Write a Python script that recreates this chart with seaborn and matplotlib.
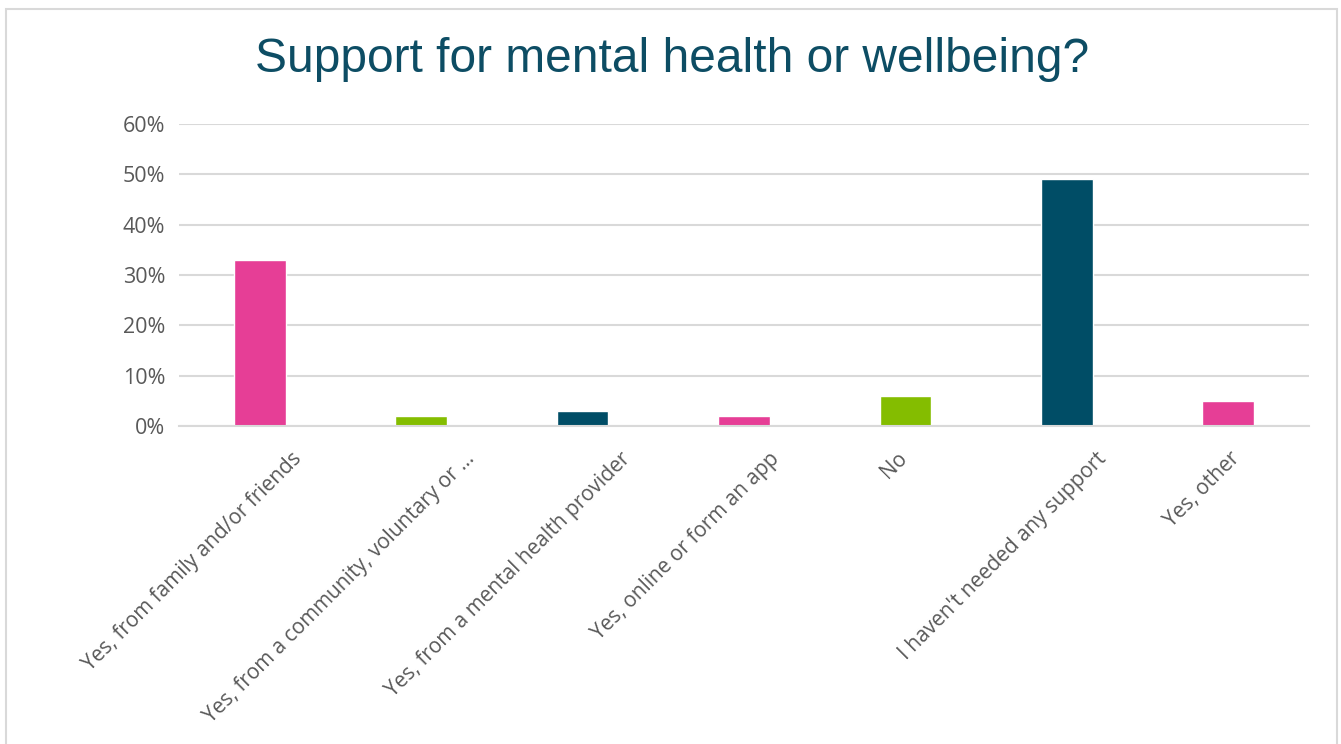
import matplotlib
matplotlib.use("Agg")
import matplotlib.pyplot as plt
from matplotlib.patches import Rectangle
from matplotlib.ticker import MultipleLocator, PercentFormatter
from matplotlib.transforms import ScaledTranslation
import seaborn as sns
import pandas as pd

categories = [
    "Yes, from family and/or friends",
    "Yes, from a community, voluntary or …",
    "Yes, from a mental health provider",
    "Yes, online or form an app",
    "No",
    "I haven't needed any support",
    "Yes, other",
]
shares = [33, 2, 3, 2, 6, 49, 5]
bar_colors = ["#E63E96", "#84BD00", "#004D66", "#E63E96", "#84BD00", "#004D66", "#E63E96"]

df = pd.DataFrame({"category": categories, "share": shares})

sns.set_theme(style="white")
plt.rcParams["font.family"] = ["Open Sans", "DejaVu Sans"]

fig = plt.figure(figsize=(13.41, 7.44), dpi=100)
ax = fig.add_axes([179 / 1341, 1 - 426 / 744, (1309 - 179) / 1341, (426 - 124) / 744])

sns.barplot(data=df, x="category", y="share", hue="category",
            palette=dict(zip(categories, bar_colors)), legend=False,
            width=0.32, ax=ax, saturation=1)

ax.set_ylim(0, 60)
ax.set_xlim(-0.5, len(categories) - 0.5)
ax.yaxis.set_major_locator(MultipleLocator(10))
ax.yaxis.set_major_formatter(PercentFormatter(decimals=0))
ax.grid(axis="y", color="#D9D9D9", linewidth=1.5)
ax.set_axisbelow(True)
for side in ["left", "right", "top"]:
    ax.spines[side].set_visible(False)
ax.spines["bottom"].set_color("#D9D9D9")
ax.spines["bottom"].set_linewidth(1.5)
ax.set_xlabel("")
ax.set_ylabel("")
ax.tick_params(axis="y", labelsize=15.5, labelcolor="#595959", length=0, pad=10)
ax.tick_params(axis="x", labelsize=15, labelcolor="#595959", length=0, pad=0)

# category labels: rotated 45°, longer labels reach further right of their bar
renderer = fig.canvas.get_renderer()
for lbl in ax.get_xticklabels():
    lbl.set_rotation(0)
    text_len = lbl.get_window_extent(renderer).width
    dx = 0.15 * (text_len - 28) - 9
    lbl.set_rotation(45)
    lbl.set_ha("right")
    lbl.set_va("top")
    lbl.set_rotation_mode("anchor")
    lbl.set_transform(lbl.get_transform()
                      + ScaledTranslation(dx / 100, -22 / 100, fig.dpi_scale_trans))

fig.text(672 / 1341, 1 - 60 / 744, "Support for mental health or wellbeing?",
         ha="center", va="center", fontsize=34.5, color="#0D4D64",
         family=["Liberation Sans", "DejaVu Sans"])

# chart frame
fig.patches.append(Rectangle((6 / 1341, -0.01), (1337 - 6) / 1341, 1 - 9 / 744 + 0.01,
                             transform=fig.transFigure, fill=False,
                             edgecolor="#D9D9D9", linewidth=1.5))

fig.savefig("out.png", dpi=100)
